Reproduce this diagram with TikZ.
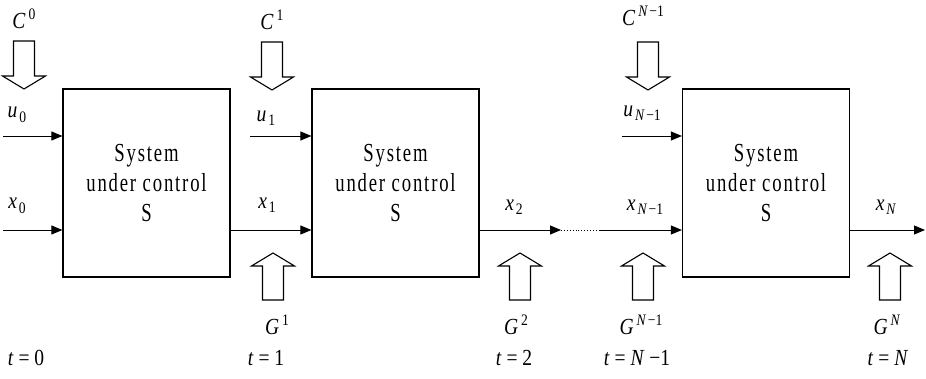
\documentclass[tikz,border=0pt]{standalone}
\usepackage{fontspec}
\setmainfont{Liberation Serif}
\newfontfamily\boxfont[FakeStretch=0.72,LetterSpace=7]{Liberation Serif}
\newfontfamily\labfont[FakeStretch=0.85]{Liberation Serif}
\usetikzlibrary{arrows.meta}

% italic symbol with upright/small index
\newcommand{\lsup}[2]{\textit{#1}\kern3pt\raisebox{9pt}{\fontsize{16}{16}\selectfont #2}}
\newcommand{\lsub}[2]{\textit{#1}\kern2pt\raisebox{-4.5pt}{\fontsize{16}{16}\selectfont #2}}
\newcommand{\Nm}{\textit{N}\kern1.5pt−1}

\begin{document}
\begin{tikzpicture}[x=1pt,y=-1pt,
  sysbox/.style={draw,line width=1.2pt,minimum width=167pt,minimum height=188pt,
    align=center,font=\boxfont\fontsize{26}{30}\selectfont},
  lab/.style={inner sep=0pt,font=\labfont\fontsize{23}{23}\selectfont},
  sig/.style={line width=0.9pt,-{Triangle[length=11pt,width=9pt]}},
  hollow/.style={draw,line width=1.1pt,fill=white,line join=miter},
  pics/hdown/.style={code={\draw[hollow] (0,0) -- (-21.5,-13) -- (-10.5,-13) -- (-10.5,-48)
      -- (10.5,-48) -- (10.5,-13) -- (21.5,-13) -- cycle;}},
  pics/hup/.style={code={\draw[hollow] (0,0) -- (-21.5,13) -- (-10.5,13) -- (-10.5,47)
      -- (10.5,47) -- (10.5,13) -- (21.5,13) -- cycle;}}]
\useasboundingbox (0,0) rectangle (926,379);

% the three stages
\node[sysbox] (b1) at (146.5,183) {System\\under control\\S};
\node[sysbox] (b2) at (395.5,183) {System\\under control\\S};
\node[sysbox] (b3) at (766,183) {System\\under control\\S};

% free ends of the signal lines
\coordinate (u0s) at (3,136);
\coordinate (x0s) at (3,230);
\coordinate (u1s) at (250,136);
\coordinate (d1) at (561,230);
\coordinate (d2) at (600,230);
\coordinate (uNs) at (622,136);
\coordinate (xNe) at (925,230);

% signals
\draw[sig] (u0s) -- (u0s -| b1.west);
\draw[sig] (x0s) -- (x0s -| b1.west);
\draw[sig] (u1s) -- (u1s -| b2.west);
\draw[sig] (x0s -| b1.east) -- (x0s -| b2.west);
\draw[sig] (x0s -| b2.east) -- (d1);
\draw[line width=0.9pt,dotted] (d1) -- (d2);
\draw[sig] (d2) -- (d2 -| b3.west);
\draw[sig] (uNs) -- (uNs -| b3.west);
\draw[sig] (x0s -| b3.east) -- (xNe);

% control and goal arrows
\pic at (24,89) {hdown};
\pic at (272,90) {hdown};
\pic at (648,90) {hdown};
\pic at (273,253) {hup};
\pic at (520,253) {hup};
\pic at (643,253) {hup};
\pic at (890,253) {hup};

% labels
\node[lab] (c0) at (24,19) {\lsup{C}{0}};
\node[lab] (c1) at (272,20) {\lsup{C}{1}};
\node[lab] (cN) at (643,16) {\lsup{C}{\Nm}};
\node[lab] (lu0) at (17,115) {\lsub{u}{0}};
\node[lab] (lx0) at (17,206) {\lsub{x}{0}};
\node[lab] (lu1) at (266,118) {\lsub{u}{1}};
\node[lab] (lx1) at (267,205) {\lsub{x}{1}};
\node[lab] (lx2) at (514,207) {\lsub{x}{2}};
\node[lab] (luN) at (642,113) {\lsub{u}{\Nm}};
\node[lab] (lxN1) at (645,207) {\lsub{x}{\Nm}};
\node[lab] (lxN) at (886,207) {\lsub{x}{\textit{N}}};
\node[lab] (g1) at (277,325) {\lsup{G}{1}};
\node[lab] (g2) at (516,325) {\lsup{G}{2}};
\node[lab] (gN1) at (641,325) {\lsup{G}{\Nm}};
\node[lab] (gN) at (887,325) {\lsup{G}{\textit{N}}};
\node[lab] (t0) at (26,358) {\textit{t} = 0};
\node[lab] (t1) at (266,358) {\textit{t} = 1};
\node[lab] (t2) at (514,358) {\textit{t} = 2};
\node[lab] (tN1) at (637,358) {\textit{t} = \textit{N} −1};
\node[lab] (tN) at (888,358) {\textit{t} = \textit{N}};
\end{tikzpicture}
\end{document}
